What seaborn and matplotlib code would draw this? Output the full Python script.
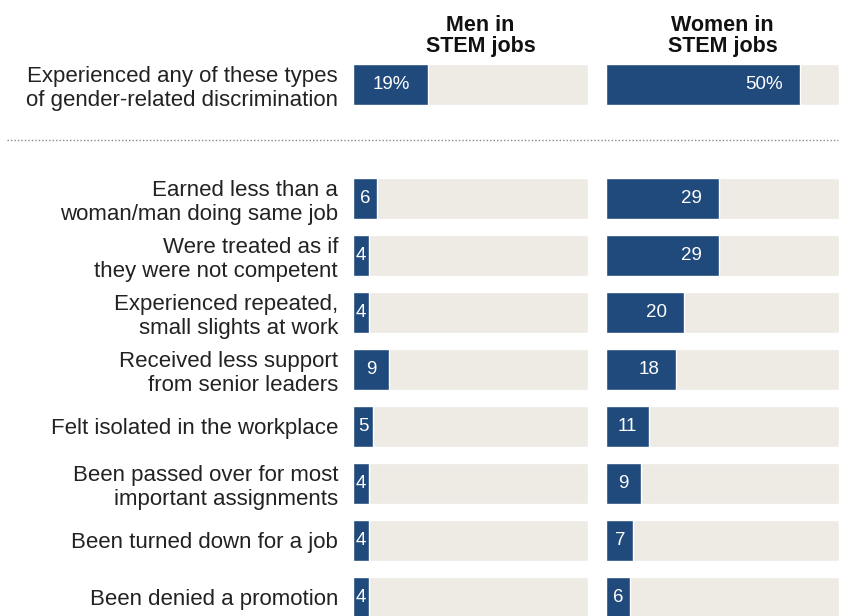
import numpy as np
import pandas as pd
import matplotlib
matplotlib.use("Agg")
import matplotlib.pyplot as plt
from matplotlib.lines import Line2D
import seaborn as sns

# ── Data ──────────────────────────────────────────────────────────────────────
labels = [
    "Experienced any of these types\nof gender-related discrimination",
    "Earned less than a\nwoman/man doing same job",
    "Were treated as if\nthey were not competent",
    "Experienced repeated,\nsmall slights at work",
    "Received less support\nfrom senior leaders",
    "Felt isolated in the workplace",
    "Been passed over for most\nimportant assignments",
    "Been turned down for a job",
    "Been denied a promotion",
]
men   = [19, 6, 4, 4, 9, 5, 4, 4, 4]
women = [50, 29, 29, 20, 18, 11, 9, 7, 6]
panel_titles = ["Men in\nSTEM jobs", "Women in\nSTEM jobs"]
scale_max = 60

BLUE = "#214a7c"
BG   = "#eeebe4"

sns.set_theme(style="white")
plt.rcParams["font.family"] = ["Liberation Sans", "DejaVu Sans"]

df = pd.DataFrame({"label": labels, "men": men, "women": women,
                   "full": [scale_max] * len(labels)})
# blank slot after the summary row leaves room for the dotted divider
order = [labels[0], " "] + labels[1:]

W, H = 841, 616
fig = plt.figure(figsize=(W / 100, H / 100), dpi=100)

# y: slot 0 centre at px 84.5, 57 px per slot
y_top = -84.5 / 57
y_bot = (H - 84.5) / 57
axes = [
    fig.add_axes([353.3 / W, 0, (588 - 353.3) / W, 1]),
    fig.add_axes([606.3 / W, 0, (839 - 606.3) / W, 1]),
]

for ax, col, title in zip(axes, ["men", "women"], panel_titles):
    sns.barplot(data=df, x="full", y="label", order=order, orient="h",
                color=BG, width=0.72, saturation=1, ax=ax)
    sns.barplot(data=df, x=col, y="label", order=order, orient="h",
                color=BLUE, width=0.72, saturation=1, ax=ax)
    ax.set_xlim(0, scale_max)
    ax.set_ylim(y_bot, y_top)
    ax.set_xlabel(""); ax.set_ylabel("")
    ax.set_xticks([])
    sns.despine(ax=ax, left=True, bottom=True)

    for i, (lab, v) in enumerate(zip(df["label"], df[col])):
        pos = order.index(lab)
        txt = f"{v}%" if i == 0 else f"{v}"
        if v >= 15:
            ax.text(v - 4.4, pos, txt, ha="right", va="center",
                    color="white", fontsize=13.5)
        else:
            ax.text(v / 2, pos, txt, ha="center", va="center",
                    color="white", fontsize=13.5)

    ax.text(scale_max / 2 + (2.5 if col == "men" else 0), -0.85, title,
            ha="center", va="center", fontsize=15.5, fontweight="bold",
            color="#111111", linespacing=1.05)

axes[0].tick_params(axis="y", length=0, pad=11, labelsize=16,
                    labelcolor="#222222")
axes[1].set_yticks([])

fig.add_artist(Line2D([7 / W, 838 / W], [1 - 140 / H, 1 - 140 / H],
                      transform=fig.transFigure, color="#888888",
                      linestyle=(0, (1, 1.5)), linewidth=1))

fig.savefig("out.png", dpi=100)
